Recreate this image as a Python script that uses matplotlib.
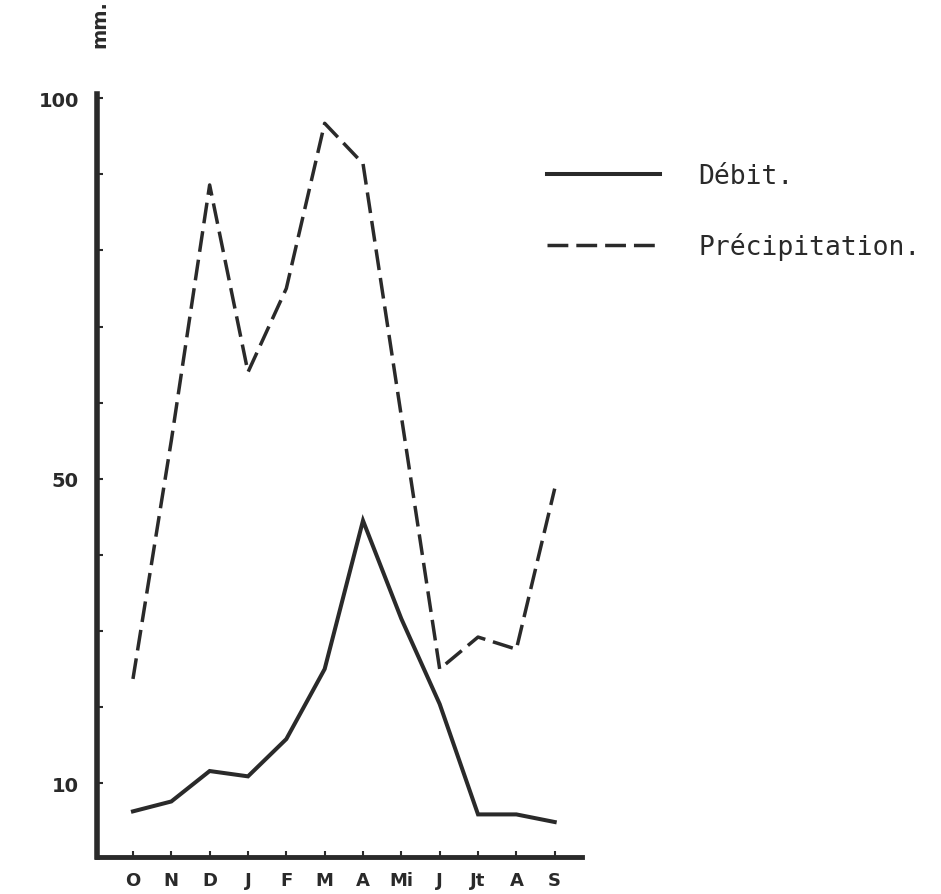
import matplotlib
matplotlib.use('Agg')
import matplotlib.pyplot as plt
import numpy as np

months = ['O', 'N', 'D', 'J', 'F', 'M', 'A', 'Mi', 'J', 'Jt', 'A', 'S']
debit = [6.3, 7.6, 11.6, 10.9, 15.8, 25.0, 44.5, 31.6, 20.4, 5.9, 5.9, 4.9]
precip = [23.7, 55.0, 88.6, 64.0, 75.0, 96.7, 91.4, 58.2, 25.0, 29.2, 27.6, 48.7]
yticks = [10, 20, 30, 40, 50, 60, 70, 80, 90, 100]
ylabels = ['10', '', '', '', '50', '', '', '', '', '100']

ink = '#2a2a2a'
x = np.arange(len(months))

fig = plt.figure(figsize=(9.41, 8.95), dpi=100)
ax = fig.add_axes([0.103, 0.0413, 0.515, 0.853])

l1, = ax.plot(x, debit, color=ink, lw=2.9, solid_joinstyle='miter', label='Débit.')
l2, = ax.plot(x, precip, color=ink, lw=2.5, linestyle=(0, (6, 2.3)), label='Précipitation.')

ax.set_xlim(-0.94, 11.7)
ax.set_ylim(0.3, 100.6)

for s in ['top', 'right']:
    ax.spines[s].set_visible(False)
ax.spines['left'].set_linewidth(4)
ax.spines['bottom'].set_linewidth(3.5)
ax.spines['left'].set_color(ink)
ax.spines['bottom'].set_color(ink)

ax.set_xticks(x)
ax.set_xticklabels(months, fontsize=13, fontweight='bold', color=ink)
ax.set_yticks(yticks)
ax.set_yticklabels(ylabels, fontsize=14, fontweight='bold', color=ink)
ax.tick_params(axis='both', direction='in', length=4, width=1.5, color=ink, pad=10)
ax.tick_params(axis='y', pad=13)

fig.text(0.106, 1.0, 'mm.', rotation=90, ha='center', va='top',
         fontsize=14, fontweight='bold', color=ink)

fig.legend(handles=[l1, l2], loc='upper left', bbox_to_anchor=(0.556, 0.843),
           frameon=False, handlelength=4.3, handletextpad=1.45, labelspacing=1.63,
           prop={'family': 'DejaVu Sans Mono', 'size': 19}, labelcolor=ink)

fig.savefig('out.png', dpi=100, facecolor='white')
